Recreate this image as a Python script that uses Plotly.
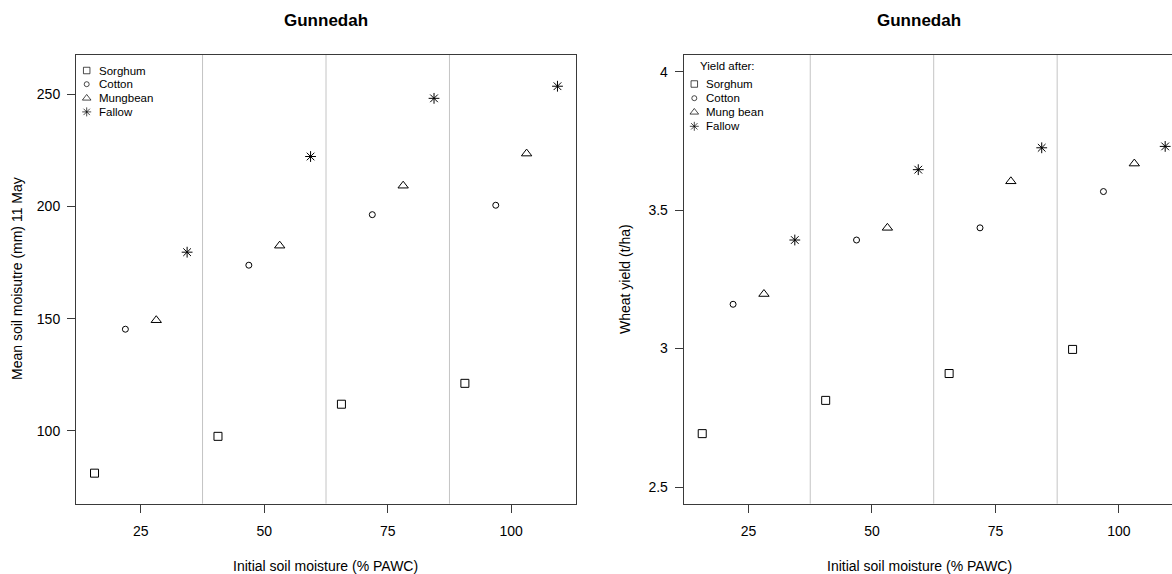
import plotly.graph_objects as go

# ---------------- data ----------------
pawc_sorghum = [15.625, 40.625, 65.625, 90.625]
pawc_cotton = [21.875, 46.875, 71.875, 96.875]
pawc_mungbean = [28.125, 53.125, 78.125, 103.125]
pawc_fallow = [34.375, 59.375, 84.375, 109.375]

moist_sorghum = [81.2, 97.6, 111.9, 121.2]
moist_cotton = [145.3, 173.8, 196.3, 200.5]
moist_mungbean = [149.3, 182.5, 209.2, 223.5]
moist_fallow = [179.6, 222.2, 248.1, 253.5]

yield_sorghum = [2.693, 2.813, 2.910, 2.997]
yield_cotton = [3.160, 3.392, 3.436, 3.567]
yield_mungbean = [3.197, 3.436, 3.604, 3.668]
yield_fallow = [3.392, 3.646, 3.725, 3.730]

left_legend = ["Sorghum", "Cotton", "Mungbean", "Fallow"]
right_legend = ["Sorghum", "Cotton", "Mung bean", "Fallow"]
right_legend_title = "Yield after:"
group_breaks = [37.5, 62.5, 87.5]
x_ticks = [25, 50, 75, 100]
y1_ticks = [100, 150, 200, 250]
y2_ticks = [2.5, 3, 3.5, 4]
y2_ticklabels = ["2.5", "3", "3.5", "4"]

# ---------------- style ----------------
W, H = 1172, 574
FONT = "Liberation Sans, Arial, sans-serif"
INK = "#000000"
AXC = "#3a3a3a"
symbols = ["square-open", "circle-open", "triangle-up-open", "asterisk-open"]
sizes = [8, 6, 9, 9]
leg_sizes = [6.5, 5, 7.5, 7.5]

L1, R1 = 76, 576
L2 = 683.7
TOP, BOT = 55, 503.7
xr = [11.875, 113.125]
pxu = (R1 - L1) / (xr[1] - xr[0])
xr2 = [xr[0], xr[0] + (W - L2) / pxu]

def px(v):
    return v / W

def py(v):
    return 1 - v / H

fig = go.Figure()

series_left = [(pawc_sorghum, moist_sorghum), (pawc_cotton, moist_cotton),
               (pawc_mungbean, moist_mungbean), (pawc_fallow, moist_fallow)]
series_right = [(pawc_sorghum, yield_sorghum), (pawc_cotton, yield_cotton),
                (pawc_mungbean, yield_mungbean), (pawc_fallow, yield_fallow)]

for i, (xs, ys) in enumerate(series_left):
    fig.add_trace(go.Scatter(x=xs, y=ys, mode="markers", xaxis="x", yaxis="y",
                             marker=dict(symbol=symbols[i], size=sizes[i], color=INK,
                                         line=dict(color=INK, width=1)),
                             showlegend=False, hoverinfo="skip", cliponaxis=False))
for i, (xs, ys) in enumerate(series_right):
    fig.add_trace(go.Scatter(x=xs, y=ys, mode="markers", xaxis="x2", yaxis="y2",
                             marker=dict(symbol=symbols[i], size=sizes[i], color=INK,
                                         line=dict(color=INK, width=1)),
                             showlegend=False, hoverinfo="skip", cliponaxis=False))

# legend symbols drawn on a full-page pixel axis
leg_left_y = [70.5, 84.2, 98.2, 111.9]
leg_right_y = [84.0, 98.2, 112.2, 126.3]
fig.add_trace(go.Scatter(x=[86.7] * 4, y=leg_left_y, mode="markers", xaxis="x3", yaxis="y3",
                         marker=dict(symbol=symbols, size=leg_sizes, color=INK,
                                     line=dict(color=INK, width=1)),
                         showlegend=False, hoverinfo="skip", cliponaxis=False))
fig.add_trace(go.Scatter(x=[694.3] * 4, y=leg_right_y, mode="markers", xaxis="x3", yaxis="y3",
                         marker=dict(symbol=symbols, size=leg_sizes, color=INK,
                                     line=dict(color=INK, width=1)),
                         showlegend=False, hoverinfo="skip", cliponaxis=False))

ann = []
for lab, yy in zip(left_legend, leg_left_y):
    ann.append(dict(x=px(96.5), y=py(yy), xref="paper", yref="paper", text=lab,
                    showarrow=False, xanchor="left", yanchor="middle",
                    font=dict(family=FONT, size=11.5, color=INK)))
ann.append(dict(x=px(698.3), y=py(66), xref="paper", yref="paper", text=right_legend_title,
                showarrow=False, xanchor="left", yanchor="middle",
                font=dict(family=FONT, size=11.5, color=INK)))
for lab, yy in zip(right_legend, leg_right_y):
    ann.append(dict(x=px(704.3), y=py(yy), xref="paper", yref="paper", text=lab,
                    showarrow=False, xanchor="left", yanchor="middle",
                    font=dict(family=FONT, size=11.5, color=INK)))

# titles
for cx in (326, 919):
    ann.append(dict(x=px(cx), y=py(20), xref="paper", yref="paper", text="<b>Gunnedah</b>",
                    showarrow=False, xanchor="center", yanchor="middle",
                    font=dict(family=FONT, size=17, color=INK)))
    ann.append(dict(x=px(cx), y=py(566), xref="paper", yref="paper",
                    text="Initial soil moisture (% PAWC)",
                    showarrow=False, xanchor="center", yanchor="middle",
                    font=dict(family=FONT, size=14, color=INK)))
ann.append(dict(x=px(17), y=py(279), xref="paper", yref="paper",
                text="Mean soil moisutre (mm) 11 May", textangle=-90,
                showarrow=False, xanchor="center", yanchor="middle",
                font=dict(family=FONT, size=14, color=INK)))
ann.append(dict(x=px(625), y=py(279), xref="paper", yref="paper",
                text="Wheat yield (t/ha)", textangle=-90,
                showarrow=False, xanchor="center", yanchor="middle",
                font=dict(family=FONT, size=14, color=INK)))

shapes = []
for xa, ya in (("x", "y"), ("x2", "y2")):
    for b in group_breaks:
        shapes.append(dict(type="line", xref=xa, yref=ya + " domain", x0=b, x1=b, y0=0, y1=1,
                           line=dict(color="#c4c4c4", width=1), layer="below"))

tickfont = dict(family=FONT, size=14, color=INK)
common_x = dict(tickmode="array", tickvals=x_ticks, ticks="outside", ticklen=8, tickwidth=1,
                tickcolor=AXC, showline=True, linecolor=AXC, linewidth=1, mirror=True,
                showgrid=False, zeroline=False, tickfont=tickfont, ticklabelstandoff=6)
common_y = dict(ticks="outside", ticklen=8, tickwidth=1, tickcolor=AXC, showline=True,
                linecolor=AXC, linewidth=1, showgrid=False, zeroline=False,
                tickfont=tickfont, ticklabelstandoff=4)

fig.update_layout(
    width=W, height=H, margin=dict(l=0, r=0, t=0, b=0),
    paper_bgcolor="white", plot_bgcolor="rgba(0,0,0,0)", showlegend=False,
    xaxis=dict(domain=[px(L1), px(R1)], range=xr, anchor="y", **common_x),
    yaxis=dict(domain=[py(BOT), py(TOP)], range=[67.6, 267.4], anchor="x", mirror=True,
               tickmode="array", tickvals=y1_ticks, **common_y),
    xaxis2=dict(domain=[px(L2), 1.0], range=xr2, anchor="y2", **common_x),
    yaxis2=dict(domain=[py(BOT), py(TOP)], range=[2.44, 4.06], anchor="x2", mirror=False,
                tickmode="array", tickvals=y2_ticks, ticktext=y2_ticklabels, **common_y),
    xaxis3=dict(domain=[0, 1], range=[0, W], anchor="y3", visible=False, fixedrange=True),
    yaxis3=dict(domain=[0, 1], range=[H, 0], anchor="x3", visible=False, fixedrange=True),
    annotations=ann, shapes=shapes,
)

fig.write_html("out.html", config={"displayModeBar": False, "staticPlot": True},
               post_script="document.body.style.margin='0';"
                           "document.body.style.overflow='hidden';")
